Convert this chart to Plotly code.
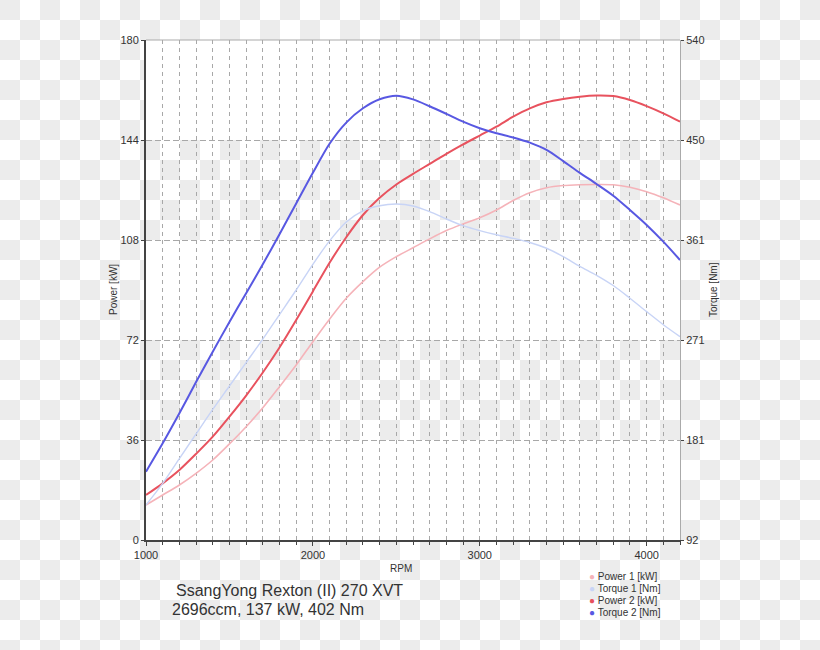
import plotly.graph_objects as go

rpm = list(range(1000, 4201, 100))

power1 = [12.6, 16.2, 19.8, 24.0, 28.8, 34.6, 40.8, 47.6, 55.2, 63.0, 71.4, 79.5, 87.0, 93.0,
          98.2, 102.0, 105.2, 108.4, 111.4, 113.8, 116.0, 118.8, 122.2, 125.0, 126.8, 127.6,
          127.9, 128.0, 127.9, 127.0, 125.4, 123.2, 120.6]
torque1 = [123.4, 142.8, 165.0, 187.0, 209.0, 230.0, 251.0, 272.0, 294.0, 316.0, 339.0, 360.0,
           377.0, 387.0, 391.5, 393.0, 391.3, 386.2, 379.6, 373.6, 369.2, 365.5, 362.3, 358.6,
           353.4, 345.9, 337.2, 329.2, 320.0, 308.6, 296.6, 284.9, 274.2]
power2 = [16.2, 20.4, 25.2, 31.0, 37.2, 44.4, 52.0, 60.3, 69.3, 79.2, 89.5, 99.8, 109.0, 117.0,
          123.2, 128.0, 131.8, 135.4, 139.0, 142.4, 145.6, 148.8, 152.4, 155.4, 157.6, 158.8,
          159.6, 160.0, 159.8, 158.4, 156.2, 153.6, 150.6]
torque2 = [153.2, 178.6, 205.5, 233.5, 260.7, 287.4, 313.1, 339.0, 366.0, 393.5, 421.0, 447.0,
           466.0, 478.8, 486.9, 490.1, 486.8, 480.6, 473.8, 466.8, 460.9, 456.4, 452.6, 448.0,
           441.5, 431.5, 421.0, 411.0, 400.5, 387.7, 374.3, 359.3, 342.9]

series_names = ["Power 1 [kW]", "Torque 1 [Nm]", "Power 2 [kW]", "Torque 2 [Nm]"]
series_colors = ["#f5b3b9", "#c8d4f6", "#e8525e", "#5858e2"]

power_ticks = [0, 36, 72, 108, 144, 180]
torque_range = [92, 540]
torque_tickvals = [92, 181.6, 271.2, 360.8, 450.4, 540]
torque_ticktext = ["92", "181", "271", "361", "450", "540"]

title_line1 = "SsangYong Rexton (II) 270 XVT"
title_line2 = "2696ccm, 137 kW, 402 Nm"

# plot-area geometry in pixels
L, R, T, B = 146, 680, 40, 540
W, H = 820, 650


def px(x):
    return (x - L) / (R - L)


def py(y):
    return (B - y) / (B - T)


fig = go.Figure()
widths = [1.6, 1.4, 2.0, 2.0]
data = [power1, torque1, power2, torque2]
axes = ["y", "y2", "y", "y2"]
for name, col, vals, ax, w in zip(series_names, series_colors, data, axes, widths):
    fig.add_trace(go.Scatter(x=rpm, y=vals, name=name, mode="lines", yaxis=ax,
                             line=dict(color=col, width=w, shape="spline", smoothing=0.8),
                             showlegend=False, hoverinfo="x+y+name"))

shapes = []
# transparency checkerboard background
sq = 20
for i in range(W // sq + 1):
    for j in range(H // sq + 1):
        if (i + j) % 2 == 0:
            shapes.append(dict(type="rect", xref="paper", yref="paper",
                               x0=px(i * sq), x1=px(i * sq + sq),
                               y0=py(j * sq + sq), y1=py(j * sq),
                               fillcolor="#ececec", line=dict(width=0), layer="below"))
# white bands inside plot area
for k in range(0, 6, 2):
    shapes.append(dict(type="rect", xref="x", yref="y", x0=1000, x1=4200,
                       y0=power_ticks[k], y1=power_ticks[k + 1],
                       fillcolor="white", line=dict(width=0), layer="below"))
# top border
shapes.append(dict(type="line", xref="paper", yref="paper", x0=0, x1=1, y0=1, y1=1,
                   line=dict(color="#aaaaaa", width=1)))

annotations = []
annotations.append(dict(text=title_line1, xref="paper", yref="paper", x=px(174), y=py(590),
                        xanchor="left", yanchor="middle", showarrow=False,
                        font=dict(size=16, color="#333333")))
annotations.append(dict(text=title_line2, xref="paper", yref="paper", x=px(170), y=py(609),
                        xanchor="left", yanchor="middle", showarrow=False,
                        font=dict(size=16, color="#333333")))
annotations.append(dict(text="RPM", xref="paper", yref="paper", x=px(401), y=py(568),
                        xanchor="center", yanchor="middle", showarrow=False,
                        font=dict(size=10, color="#333333")))
annotations.append(dict(text="Power [kW]", xref="paper", yref="paper", x=px(113), y=py(290),
                        xanchor="center", yanchor="middle", showarrow=False, textangle=-90,
                        font=dict(size=10, color="#333333")))
annotations.append(dict(text="Torque [Nm]", xref="paper", yref="paper", x=px(713), y=py(290),
                        xanchor="center", yanchor="middle", showarrow=False, textangle=-90,
                        font=dict(size=10, color="#333333")))
for k, (name, col) in enumerate(zip(series_names, series_colors)):
    annotations.append(dict(
        text=f'<span style="color:{col}">●</span> {name}',
        xref="paper", yref="paper", x=px(587), y=py(576.5 + 12 * k),
        xanchor="left", yanchor="middle", showarrow=False,
        font=dict(size=10, color="#333333")))

fig.update_layout(
    width=W, height=H,
    margin=dict(l=L, r=W - R, t=T, b=H - B, pad=0),
    paper_bgcolor="white", plot_bgcolor="rgba(0,0,0,0)",
    font=dict(family="Liberation Sans, Arial, sans-serif", size=11, color="#333333"),
    showlegend=False,
    shapes=shapes, annotations=annotations,
    xaxis=dict(range=[1000, 4200], tick0=1000, dtick=1000, showgrid=True,
               gridcolor="#a8a8a8", griddash="4px,4px", gridwidth=1,
               showline=True, linecolor="#444444", linewidth=2,
               ticks="outside", ticklen=4, tickcolor="#444444",
               zeroline=False, fixedrange=True,
               minor=dict(dtick=100, tick0=1000, showgrid=True, gridcolor="#a8a8a8",
                          griddash="4px,4px", gridwidth=1, ticks="outside", ticklen=3,
                          tickcolor="#444444")),
    yaxis=dict(range=[0, 180], tickvals=power_ticks, showgrid=True,
               gridcolor="#a8a8a8", griddash="6px,3px", gridwidth=1,
               showline=True, linecolor="#444444", linewidth=2,
               ticks="outside", ticklen=3, tickcolor="#444444",
               zeroline=False, fixedrange=True),
    yaxis2=dict(range=torque_range, tickvals=torque_tickvals, ticktext=torque_ticktext,
                overlaying="y", side="right", showgrid=False, zeroline=False,
                showline=True, linecolor="#aaaaaa", linewidth=1,
                ticks="outside", ticklen=3, tickcolor="#444444", fixedrange=True),
)

fig.write_html("out.html")
